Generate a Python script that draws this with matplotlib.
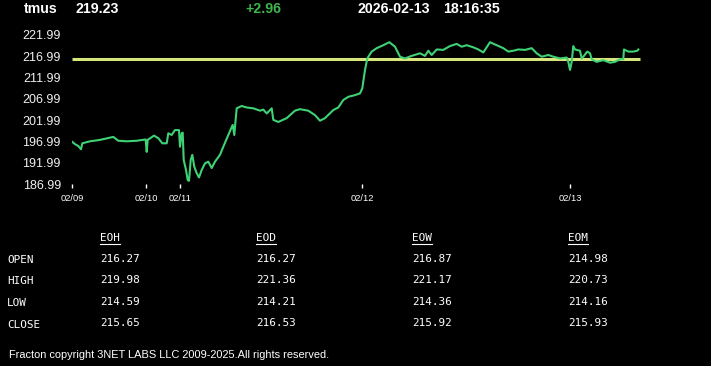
import matplotlib
matplotlib.use("Agg")
import matplotlib.pyplot as plt
from matplotlib import font_manager
from matplotlib.lines import Line2D

# ---------------- data ----------------
symbol = "tmus"
last_price = "219.23"
change = "+2.96"
date_str = "2026-02-13"
time_str = "18:16:35"

# sample index (intraday bar number) and price
idx = [0, 3, 6.3, 9, 10.3, 18, 28, 41.3, 46.3, 54.7, 64.7, 73.7, 74.7, 75.7,
       82, 86.3, 90.3, 94.7, 96.3, 99.7, 103, 107, 108, 109.7, 110.7, 111.7,
       114, 115.7, 117, 118.7, 120.3, 122.3, 124.7, 127, 129.7, 133, 136.3,
       139.7, 143, 148, 151.3, 156.3, 160.7, 162.3, 163.3, 164.7, 169.7, 174.7,
       181.3, 188, 191.3, 194.7, 199.7, 201.3, 206.3, 214.7, 223, 228, 236.3,
       243, 248, 253, 261.3, 266.3, 271.3, 276.3, 283, 288, 290.3, 293, 295.3,
       299.7, 304.7, 311.3, 317.3, 323, 328, 333, 339.7, 348, 353, 356.3, 359.7,
       364.7, 371.3, 378, 384.7, 389.7, 394.7, 401.3, 406.3, 411.3, 418, 424.7,
       431.3, 436.3, 441.3, 446.3, 453, 459.7, 464.7, 469.7, 476.3, 481.3, 488,
       494.7, 496.3, 498, 499.7, 501.3, 503, 508, 509.7, 511.3, 515.3, 518,
       519.7, 524.7, 531.3, 538, 543, 548, 551.3, 552, 556.3, 561.3, 565.3, 566.3]
price = [196.98, 196.40, 195.97, 195.20, 196.60, 197.07, 197.40, 198.10, 197.20,
         197.07, 197.20, 197.50, 194.60, 197.40, 198.40, 197.80, 196.60, 196.60,
         198.95, 198.55, 199.70, 199.70, 195.80, 198.95, 199.10, 192.70, 190.35,
         188.00, 187.80, 192.70, 193.90, 191.10, 189.60, 188.60, 190.35, 191.90,
         192.30, 190.80, 192.30, 193.90, 195.80, 198.55, 200.90, 198.55, 201.30,
         204.80, 205.35, 205.00, 204.80, 204.25, 204.50, 203.60, 204.80, 202.10,
         201.60, 202.50, 204.25, 204.60, 204.25, 203.20, 201.90, 202.50, 204.40,
         205.00, 206.75, 207.50, 207.90, 208.30, 209.50, 213.80, 216.50, 218.10,
         218.90, 219.60, 220.30, 219.25, 216.90, 216.50, 217.10, 217.70, 217.10,
         218.30, 217.30, 218.60, 218.50, 219.40, 219.90, 219.25, 219.60, 219.10,
         218.60, 217.90, 220.30, 219.60, 218.90, 218.10, 218.30, 218.60, 218.50,
         218.90, 217.70, 216.90, 217.30, 216.90, 216.50, 216.70, 215.70, 213.80,
         215.70, 219.40, 218.60, 218.30, 216.50, 216.90, 218.10, 217.70, 216.30,
         215.70, 216.10, 215.50, 215.70, 216.30, 216.30, 218.60, 218.10, 218.10,
         218.30, 218.60]
prev_close = 216.27

ytick_vals = [186.99, 191.99, 196.99, 201.99, 206.99, 211.99, 216.99, 221.99]
xtick_pos = [0, 74, 108, 290, 498]
xtick_labels = ["02/09", "02/10", "02/11", "02/12", "02/13"]

col_headers = ["EOH", "EOD", "EOW", "EOM"]
row_labels = ["OPEN", "HIGH", "LOW", "CLOSE"]
table_vals = [
    ["216.27", "216.27", "216.87", "214.98"],
    ["219.98", "221.36", "221.17", "220.73"],
    ["214.59", "214.21", "214.36", "214.16"],
    ["215.65", "216.53", "215.92", "215.93"],
]
copyright_txt = "Fracton copyright 3NET LABS LLC 2009-2025.All rights reserved."

# ---------------- figure ----------------
W, H = 711, 366
fig = plt.figure(figsize=(W / 100, H / 100), dpi=100, facecolor="black")

def fx(px):
    return px / W

def fy(py):
    return 1 - py / H

ax = fig.add_axes([fx(72), fy(184.3), 570 / W, (184.3 - 35) / H])
ax.set_facecolor("black")
ax.plot(idx, price, color="#3ed274", lw=1.5, solid_joinstyle="round", zorder=3)
ax.hlines(prev_close, idx[0], idx[-1] + 1.5, color="#d7e67a", lw=2.2, zorder=2)
ax.set_xlim(0, 570)
ax.set_ylim(ytick_vals[0], ytick_vals[-1])
for s in ax.spines.values():
    s.set_visible(False)

ax.set_yticks(ytick_vals)
ax.set_yticklabels([f"{v:.2f}" for v in ytick_vals])
ax.tick_params(axis="y", length=0, pad=8, colors="white", labelsize=9)
for t in ax.get_yticklabels():
    t.set_family("Liberation Sans")
    t.set_color("#f0f0f0")

ax.set_xticks(xtick_pos)
ax.set_xticklabels(xtick_labels)
ax.tick_params(axis="x", length=3, width=1, direction="out", pad=4,
               colors="white", labelsize=6.7)
for t in ax.get_xticklabels():
    t.set_family("Liberation Sans")

# ---------------- header ----------------
hdr = dict(fontsize=10.2, fontweight="bold", family="Liberation Sans",
           va="center", ha="left")
fig.text(fx(24), fy(9.3), symbol, color="white", **hdr)
fig.text(fx(75), fy(9.3), last_price, color="white", **hdr)
fig.text(fx(245), fy(9.3), change, color="#3cb64a", **hdr)
fig.text(fx(358), fy(9.3), date_str, color="white", **hdr)
fig.text(fx(443.5), fy(9.3), time_str, color="white", **hdr)

# ---------------- table ----------------
mono = dict(fontsize=7.9, family="DejaVu Sans Mono", color="white", va="center",
            ha="left")
col_x = [100, 256, 412, 568]
row_y = [258.8, 280.3, 301.8, 323.3]
renderer = fig.canvas.get_renderer()
for cx, h in zip(col_x, col_headers):
    t = fig.text(fx(cx), fy(238.3), h, **mono)
    bb = t.get_window_extent(renderer=renderer)
    fig.add_artist(Line2D([fx(bb.x0), fx(bb.x1)], [fy(244), fy(244)],
                          transform=fig.transFigure, color="white", lw=0.8))
for ry, lab, vals in zip(row_y, row_labels, table_vals):
    fig.text(fx(7), fy(ry + 1.2), lab, **mono)
    for cx, v in zip(col_x, vals):
        fig.text(fx(cx), fy(ry), v, **mono)

# ---------------- footer ----------------
fam = "Liberation Sans"
try:
    font_manager.findfont("Liberation Sans Narrow", fallback_to_default=False)
    fam = "Liberation Sans Narrow"
except Exception:
    pass
ct = fig.text(fx(9), fy(355), copyright_txt, color="white", fontsize=9,
              family=fam, va="center", ha="left")
bb = ct.get_window_extent(renderer=renderer)
ct.set_fontsize(9 * 321 / bb.width)

fig.savefig("out.png", dpi=100, facecolor="black")
